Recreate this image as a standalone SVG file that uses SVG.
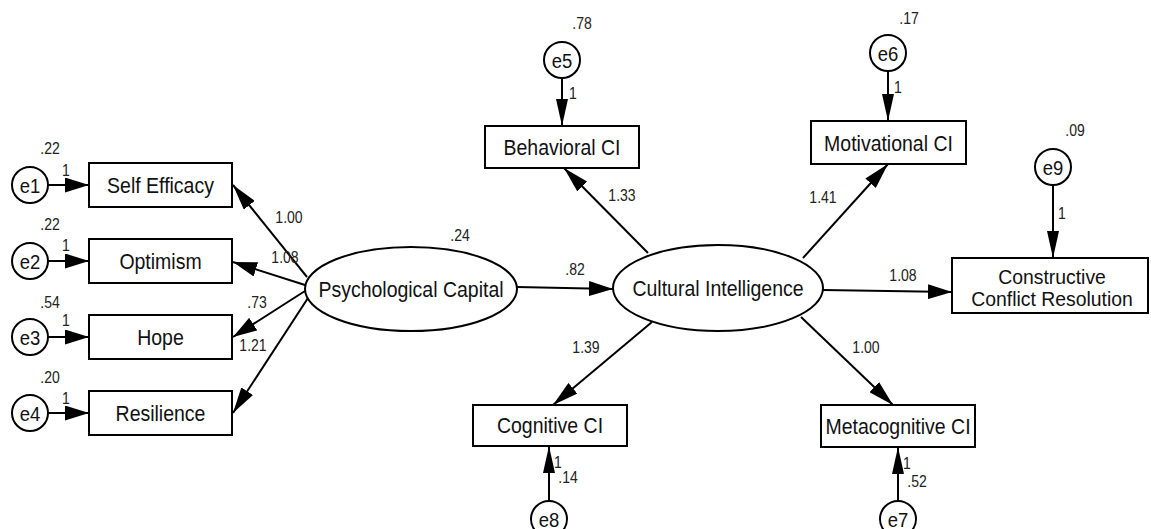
<svg xmlns="http://www.w3.org/2000/svg" width="1151" height="529" viewBox="0 0 1151 529">
<style>
.box{fill:#fff;stroke:#000;stroke-width:2}
.lat{fill:#fff;stroke:#000;stroke-width:2}
.err{fill:#fff;stroke:#000;stroke-width:2}
.lbl{font-family:"Liberation Sans",Arial,sans-serif;font-size:22.4px;fill:#111;text-anchor:middle}
.lbl2{font-family:"Liberation Sans",Arial,sans-serif;font-size:20px;fill:#111;text-anchor:middle}
.elb{font-family:"Liberation Sans",Arial,sans-serif;font-size:21px;fill:#111;text-anchor:middle}
.num{font-family:"Liberation Sans",Arial,sans-serif;font-size:16.5px;fill:#222;text-anchor:middle}
.con line{stroke:#000;stroke-width:2}
.h{marker-end:url(#ah)}
.v{marker-end:url(#av)}
.d{marker-end:url(#ad)}
</style>
<defs>
<marker id="ah" markerUnits="userSpaceOnUse" markerWidth="24" markerHeight="15" refX="24" refY="7.5" orient="auto">
<path d="M0,0 L24,7.5 L0,15 z" fill="#000"/>
</marker>
<marker id="av" markerUnits="userSpaceOnUse" markerWidth="27" markerHeight="12" refX="27" refY="6" orient="auto">
<path d="M0,0 L27,6 L0,12 z" fill="#000"/>
</marker>
<marker id="ad" markerUnits="userSpaceOnUse" markerWidth="26" markerHeight="14" refX="26" refY="7" orient="auto">
<path d="M0,0 L26,7 L0,14 z" fill="#000"/>
</marker>
</defs>
<rect width="1151" height="529" fill="#fff"/>

<g id="connectors" class="con">
<line class="h" x1="48" y1="185" x2="89" y2="185"/>
<line class="h" x1="48" y1="261" x2="89" y2="261"/>
<line class="h" x1="48" y1="337" x2="89" y2="337"/>
<line class="h" x1="48" y1="413" x2="89" y2="413"/>
<line class="d" x1="307" y1="277" x2="233" y2="185"/>
<line class="h" x1="305" y1="285" x2="233" y2="262"/>
<line class="h" x1="305" y1="291" x2="233" y2="337"/>
<line class="d" x1="308" y1="298" x2="233" y2="413"/>
<line class="h" x1="517" y1="287" x2="613" y2="289"/>
<line class="d" x1="648" y1="253" x2="564" y2="168"/>
<line class="d" x1="803" y1="258" x2="888" y2="164"/>
<line class="h" x1="823" y1="290" x2="952" y2="292"/>
<line class="d" x1="652" y1="322" x2="553" y2="405"/>
<line class="d" x1="801" y1="317" x2="893" y2="405"/>
<line class="v" x1="562" y1="78" x2="562" y2="126"/>
<line class="v" x1="888" y1="71" x2="888" y2="121"/>
<line class="v" x1="1053" y1="185" x2="1053" y2="258"/>
<line class="v" x1="549" y1="501" x2="549" y2="446"/>
<line class="v" x1="898" y1="501" x2="898" y2="447"/>
</g>

<g id="e1"><circle class="err" cx="30" cy="185" r="18"/><text class="elb" transform="translate(30,192.5) scale(0.88,1)">e1</text><text class="num" transform="translate(50,154) scale(0.85,1)">.22</text><text class="num" transform="translate(66,176) scale(0.85,1)">1</text></g>
<g id="e2"><circle class="err" cx="30" cy="261" r="18"/><text class="elb" transform="translate(30,268.5) scale(0.88,1)">e2</text><text class="num" transform="translate(50,230) scale(0.85,1)">.22</text><text class="num" transform="translate(66,251) scale(0.85,1)">1</text></g>
<g id="e3"><circle class="err" cx="30" cy="337" r="18"/><text class="elb" transform="translate(30,344.5) scale(0.88,1)">e3</text><text class="num" transform="translate(50,308) scale(0.85,1)">.54</text><text class="num" transform="translate(66,326) scale(0.85,1)">1</text></g>
<g id="e4"><circle class="err" cx="30" cy="413" r="18"/><text class="elb" transform="translate(30,420.5) scale(0.88,1)">e4</text><text class="num" transform="translate(50,383) scale(0.85,1)">.20</text><text class="num" transform="translate(66,404) scale(0.85,1)">1</text></g>

<g id="self-efficacy"><rect class="box" x="89" y="163" width="143" height="44"/><text class="lbl" transform="translate(160.5,193) scale(0.87,1)">Self Efficacy</text></g>
<g id="optimism"><rect class="box" x="89" y="239" width="143" height="44"/><text class="lbl" transform="translate(160.5,269) scale(0.87,1)">Optimism</text></g>
<g id="hope"><rect class="box" x="89" y="315" width="143" height="44"/><text class="lbl" transform="translate(160.5,345) scale(0.87,1)">Hope</text></g>
<g id="resilience"><rect class="box" x="89" y="391" width="143" height="44"/><text class="lbl" transform="translate(160.5,421) scale(0.87,1)">Resilience</text></g>

<g id="psycap"><ellipse class="lat" cx="411" cy="289" rx="106" ry="42"/><text class="lbl" transform="translate(411,297) scale(0.87,1)">Psychological Capital</text><text class="num" transform="translate(460,241) scale(0.85,1)">.24</text></g>
<g id="cultural-intelligence"><ellipse class="lat" cx="718" cy="288" rx="105" ry="43"/><text class="lbl" transform="translate(718,296) scale(0.87,1)">Cultural Intelligence</text></g>

<g id="behavioral"><rect class="box" x="485" y="126" width="154" height="42"/><text class="lbl" transform="translate(562,155) scale(0.87,1)">Behavioral CI</text></g>
<g id="e5"><circle class="err" cx="562" cy="60" r="18"/><text class="elb" transform="translate(562,67.5) scale(0.88,1)">e5</text><text class="num" transform="translate(582,29) scale(0.85,1)">.78</text><text class="num" transform="translate(573,99) scale(0.85,1)">1</text></g>

<g id="motivational"><rect class="box" x="811" y="121" width="155" height="43"/><text class="lbl" transform="translate(888.5,150.5) scale(0.87,1)">Motivational CI</text></g>
<g id="e6"><circle class="err" cx="888" cy="53" r="18"/><text class="elb" transform="translate(888,60.5) scale(0.88,1)">e6</text><text class="num" transform="translate(909,24) scale(0.85,1)">.17</text><text class="num" transform="translate(898,93) scale(0.85,1)">1</text></g>

<g id="ccr"><rect class="box" x="952" y="258" width="196" height="55"/><text class="lbl2" transform="translate(1052,284) scale(0.97,1)">Constructive</text><text class="lbl2" transform="translate(1052,306) scale(0.97,1)">Conflict Resolution</text></g>
<g id="e9"><circle class="err" cx="1053" cy="167" r="18"/><text class="elb" transform="translate(1053,174.5) scale(0.88,1)">e9</text><text class="num" transform="translate(1075,136) scale(0.85,1)">.09</text><text class="num" transform="translate(1062,219) scale(0.85,1)">1</text></g>

<g id="cognitive"><rect class="box" x="473" y="405" width="154" height="41"/><text class="lbl" transform="translate(550,433) scale(0.87,1)">Cognitive CI</text></g>
<g id="e8"><circle class="err" cx="549" cy="519" r="18"/><text class="elb" transform="translate(549,526.5) scale(0.88,1)">e8</text><text class="num" transform="translate(558,468) scale(0.85,1)">1</text><text class="num" transform="translate(568,483) scale(0.85,1)">.14</text></g>

<g id="metacognitive"><rect class="box" x="821" y="405" width="154" height="42"/><text class="lbl" transform="translate(898,434) scale(0.87,1)">Metacognitive CI</text></g>
<g id="e7"><circle class="err" cx="898" cy="519" r="18"/><text class="elb" transform="translate(898,526.5) scale(0.88,1)">e7</text><text class="num" transform="translate(907,469) scale(0.85,1)">1</text><text class="num" transform="translate(917,487) scale(0.85,1)">.52</text></g>

<g id="path-labels">
<text class="num" transform="translate(289,223) scale(0.85,1)">1.00</text>
<text class="num" transform="translate(285,263) scale(0.85,1)">1.08</text>
<text class="num" transform="translate(257,308) scale(0.85,1)">.73</text>
<text class="num" transform="translate(253,351) scale(0.85,1)">1.21</text>
<text class="num" transform="translate(575,275) scale(0.85,1)">.82</text>
<text class="num" transform="translate(622,201) scale(0.85,1)">1.33</text>
<text class="num" transform="translate(823,203) scale(0.85,1)">1.41</text>
<text class="num" transform="translate(903,281) scale(0.85,1)">1.08</text>
<text class="num" transform="translate(586,353) scale(0.85,1)">1.39</text>
<text class="num" transform="translate(866,353) scale(0.85,1)">1.00</text>
</g>
</svg>
